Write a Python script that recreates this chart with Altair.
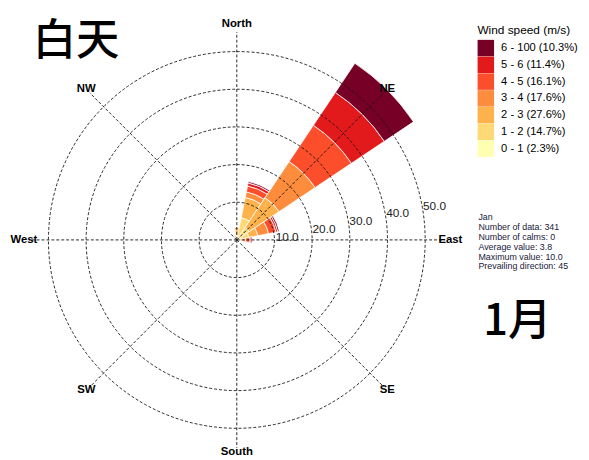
import math
import altair as alt
import pandas as pd

# ---------------- data (percent of observations) ----------------
speed_labels = ["0 - 1 (2.3%)", "1 - 2 (14.7%)", "2 - 3 (27.6%)", "3 - 4 (17.6%)",
                "4 - 5 (16.1%)", "5 - 6 (11.4%)", "6 - 100 (10.3%)"]
speed_colors = ["#FFFFB2", "#FED976", "#FEB24C", "#FD8D3C", "#FC4E2A", "#E31A1C", "#770026"]

directions = [0, 22.5, 45, 67.5, 90, 337.5]
freq_0_1 = [0.3, 0.5, 0.5, 0.5, 0.2, 0.2]
freq_1_2 = [1.0, 5.5, 3.5, 2.8, 0.5, 0.6]
freq_2_3 = [1.4, 5.5, 9.5, 2.4, 0.8, 0.5]
freq_3_4 = [0.6, 1.5, 11.5, 2.9, 0.9, 0.0]
freq_4_5 = [0.0, 1.6, 11.6, 2.0, 1.0, 0.0]
freq_5_6 = [0.0, 0.8, 10.5, 0.5, 0.4, 0.0]
freq_6_up = [0.0, 0.4, 9.3, 0.4, 0.3, 0.0]

grid_levels = [10, 20, 30, 40, 50]
grid_labels = ["10.0", "20.0", "30.0", "40.0", "50.0"]
compass_names = ["North", "NE", "East", "SE", "South", "SW", "West", "NW"]
compass_angles = [0, 45, 90, 135, 180, 225, 270, 315]

stats_lines = ["Jan", "Number of data: 341", "Number of calms: 0", "Average value: 3.8",
               "Maximum value: 10.0", "Prevailing direction: 45"]

# ---------------- layout constants ----------------
W, H = 581, 452
CX, CY = 232, 232          # centre of the rose in view pixels
PX = 3.82                  # pixels per percent
SECTOR = 22.5
FONT = "Liberation Sans"
GRID = "#111111"

xs = alt.Scale(domain=[-CX / PX, (W - CX) / PX], range=[0, W], zero=False, nice=False)
ys = alt.Scale(domain=[-(H - CY) / PX, CY / PX], range=[H, 0], zero=False, nice=False)
ts = alt.Scale(domain=[0, 360], range=[0, 2 * math.pi], zero=False, nice=False)
rs = alt.Scale(type="linear", domain=[0, 60], range=[0, 60 * PX], zero=True, nice=False)

# ---------------- build tables ----------------
bins = [freq_0_1, freq_1_2, freq_2_3, freq_3_4, freq_4_5, freq_5_6, freq_6_up]
rows = []
for i, d in enumerate(directions):
    cum = 0.0
    for b, series in enumerate(bins):
        v = series[i]
        if v > 0:
            rows.append(dict(cx=0, cy=0, t0=d - SECTOR / 2, t1=d + SECTOR / 2,
                             r0=cum, r1=cum + v, speed=speed_labels[b], k=b))
        cum += v
wedges_df = pd.DataFrame(rows)

circles_df = pd.DataFrame(dict(cx=0, cy=0, t0=0, t1=360, r=grid_levels))

spoke_r = 55.2
spokes_df = pd.DataFrame(dict(
    x0=[0.0] * 8, y0=[0.0] * 8,
    x1=[spoke_r * math.sin(math.radians(a)) for a in compass_angles],
    y1=[spoke_r * math.cos(math.radians(a)) for a in compass_angles]))

lab_ang = math.radians(78)
rlab_df = pd.DataFrame(dict(
    x=[r * math.sin(lab_ang) for r in grid_levels],
    y=[r * math.cos(lab_ang) for r in grid_levels],
    t=grid_labels))

comp_r = [57.2, 56.5, 56.7, 56.5, 56.4, 56.5, 56.5, 56.5]
comp_df = pd.DataFrame(dict(
    x=[r * math.sin(math.radians(a)) for r, a in zip(comp_r, compass_angles)],
    y=[r * math.cos(math.radians(a)) for r, a in zip(comp_r, compass_angles)],
    t=compass_names))

# ---------------- layers ----------------
pos = dict(x=alt.X("cx:Q", scale=xs, axis=None), y=alt.Y("cy:Q", scale=ys, axis=None))

wedges = alt.Chart(wedges_df).mark_arc(stroke="white", strokeWidth=0.8).encode(
    **pos,
    theta=alt.Theta("t0:Q", scale=ts, stack=False),
    theta2="t1:Q",
    radius=alt.Radius("r1:Q", scale=rs),
    radius2="r0:Q",
    color=alt.Color("speed:N",
                    scale=alt.Scale(domain=speed_labels[::-1], range=speed_colors[::-1]),
                    legend=alt.Legend(orient="none", legendX=476, legendY=14,
                                      title="Wind speed (m/s)", titleFont=FONT,
                                      titleFontSize=12, titleFontWeight="normal",
                                      titleColor="black", titlePadding=3,
                                      labelFont=FONT, labelFontSize=11.3, labelColor="black",
                                      labelOffset=7, symbolType="square", symbolSize=279,
                                      symbolStrokeWidth=0, symbolOpacity=1, rowPadding=0,
                                      padding=0)),
)

circles = alt.Chart(circles_df).mark_arc(filled=False, stroke=GRID, strokeWidth=0.9,
                                         strokeDash=[3, 2]).encode(
    **pos,
    theta=alt.Theta("t0:Q", scale=ts, stack=False),
    theta2="t1:Q",
    radius=alt.Radius("r:Q", scale=rs),
)

spokes = alt.Chart(spokes_df).mark_rule(stroke=GRID, strokeWidth=0.9, strokeDash=[3, 2]).encode(
    x=alt.X("x0:Q", scale=xs, axis=None), y=alt.Y("y0:Q", scale=ys, axis=None),
    x2="x1:Q", y2="y1:Q")

rlabels = alt.Chart(rlab_df).mark_text(align="left", baseline="top", font=FONT, fontSize=12,
                                       color="#222", dx=2).encode(
    x=alt.X("x:Q", scale=xs, axis=None), y=alt.Y("y:Q", scale=ys, axis=None), text="t:N")

clabels = alt.Chart(comp_df).mark_text(align="center", baseline="middle", font=FONT,
                                       fontSize=11.5, fontWeight="bold", color="black").encode(
    x=alt.X("x:Q", scale=xs, axis=None), y=alt.Y("y:Q", scale=ys, axis=None), text="t:N")

one = pd.DataFrame({"a": [0]})
title_day = alt.Chart(one).mark_text(align="left", baseline="alphabetic",
                                     font="Noto Sans CJK SC", fontSize=44, fontWeight=500,
                                     color="black").encode(
    x=alt.value(25), y=alt.value(44), text=alt.value("白天"))
title_month = alt.Chart(one).mark_text(align="left", baseline="alphabetic",
                                       font="Noto Sans CJK SC", fontSize=44, fontWeight=500,
                                       color="black").encode(
    x=alt.value(482), y=alt.value(328), text=alt.value("1月"))
stats = alt.Chart(one).mark_text(align="left", baseline="top", font=FONT, fontSize=9,
                                 lineHeight=10, color="#20203a").encode(
    x=alt.value(477), y=alt.value(205), text=alt.value(stats_lines))

chart = alt.layer(wedges, circles, spokes, rlabels, clabels, title_day, title_month, stats).properties(
    width=W, height=H, padding=0, autosize=alt.AutoSizeParams(type="none")
).configure_view(strokeWidth=0)

chart.save("out.html", embed_options={"renderer": "svg", "actions": False})
